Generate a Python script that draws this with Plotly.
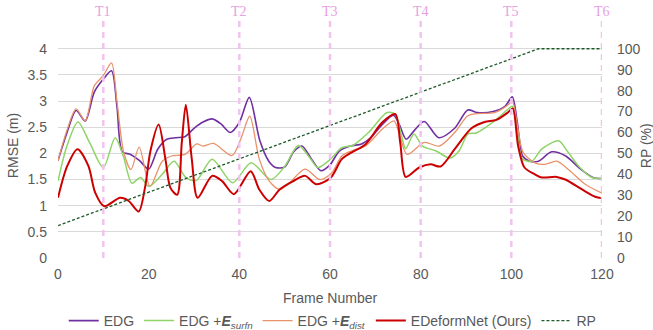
import plotly.graph_objects as go

# ---------------- data ----------------
edg_frames = [0, 2, 4, 6, 8, 10, 11.8, 13, 14.2, 16, 18, 20, 22, 24, 26, 28, 30, 32, 34, 36, 38, 40, 42.2,
              44.5, 46.5, 48, 50, 52, 53.8, 56, 58, 60, 62, 64.5, 67, 69, 71.5, 74, 75.3, 76.8, 78.8, 80.8,
              84, 87.5, 90.4, 92.5, 96, 98.6, 100.2, 101.3, 102.5, 104, 106, 108.9, 112, 115, 118, 120]
edg_values = [1.86, 2.40, 2.82, 2.62, 3.17, 3.42, 3.58, 2.90, 2.03, 1.98, 1.86, 1.70, 2.08, 2.27, 2.30, 2.32,
              2.48, 2.60, 2.66, 2.56, 2.40, 2.59, 3.07, 2.25, 1.85, 1.73, 1.74, 2.03, 2.14, 1.88, 1.67, 1.78,
              2.04, 2.14, 2.18, 2.30, 2.55, 2.73, 2.55, 2.27, 2.46, 2.61, 2.30, 2.48, 2.83, 2.78, 2.80, 2.90,
              3.08, 2.60, 1.95, 1.85, 1.85, 2.03, 1.95, 1.72, 1.54, 1.52]

surfn_frames = [0, 2, 4.4, 7, 10, 12.6, 14.4, 16.3, 18.2, 20, 23, 25.6, 28.2, 30.5, 34, 38.5, 42.6, 47, 50,
                53, 55.5, 57.3, 60, 62.6, 65, 68.5, 72.6, 74.4, 75.6, 76.7, 78.5, 80.4, 83.3, 86.5, 88.5,
                90.4, 92.3, 96.3, 99.2, 100.2, 101.3, 102.4, 104.5, 106.7, 110.4, 112.3, 114.8, 117.8, 120]
surfn_values = [1.47, 2.15, 2.60, 2.20, 1.73, 2.30, 1.95, 1.43, 1.54, 1.37, 1.60, 1.85, 1.54, 1.48, 1.89,
                1.44, 1.82, 1.50, 1.75, 2.15, 1.92, 1.73, 1.88, 2.11, 2.15, 2.40, 2.78, 2.75, 2.40, 2.09,
                2.37, 2.14, 2.05, 1.91, 2.05, 2.37, 2.39, 2.62, 2.84, 2.90, 2.40, 1.90, 1.85, 2.08, 2.24,
                2.05, 1.76, 1.54, 1.52]

dist_frames = [0, 2, 4, 6, 8, 10, 11.8, 13, 14.5, 16.1, 17.9, 20.3, 23, 25, 28, 30.6, 32, 34.3, 38.4, 40.3,
               42.3, 44.4, 46.6, 48.9, 51.1, 54.5, 57.8, 60.4, 62.6, 64.8, 67.8, 71.5, 74.1, 75.2, 77,
               80.8, 84.1, 87.5, 90.4, 92.3, 96.3, 99.2, 100.2, 101.4, 102.6, 105.2, 107.4, 110, 112.6,
               116.3, 120]
dist_values = [1.86, 2.45, 2.85, 2.62, 3.29, 3.49, 3.73, 3.00, 2.02, 1.69, 2.12, 1.37, 1.85, 1.95, 1.98,
               2.18, 2.14, 2.19, 1.96, 2.27, 2.71, 1.89, 1.47, 1.31, 1.44, 1.70, 1.50, 1.63, 1.95, 2.05,
               2.14, 2.46, 2.62, 2.40, 1.98, 2.21, 2.14, 2.40, 2.72, 2.76, 2.78, 2.92, 3.00, 2.50, 2.02,
               1.82, 1.79, 1.85, 1.69, 1.41, 1.24]

ours_frames = [0, 2, 4.3, 6.7, 8.2, 10.2, 13.7, 15.6, 17.8, 19.2, 20.4, 22.2, 23.7, 24.8, 26.3, 27.3, 28.2,
               29.5, 30.8, 34, 36.2, 38.8, 42.5, 44.4, 46.6, 48.9, 51.9, 54.5, 57, 60.2, 62.6, 64.8, 67.8,
               71.5, 74.4, 75.5, 76.7, 79.7, 82.2, 84.4, 87.5, 91.2, 94.1, 96.7, 99.2, 100.3, 101.5, 102.9,
               105.2, 106.7, 110, 111.9, 115.6, 118.5, 120]
ours_values = [1.15, 1.75, 2.08, 1.76, 1.25, 0.99, 1.15, 1.09, 0.89, 1.35, 2.05, 2.55, 1.89, 1.34, 1.21,
               2.20, 2.93, 1.90, 1.15, 1.57, 1.47, 1.22, 1.66, 1.31, 1.09, 1.31, 1.47, 1.57, 1.41, 1.54,
               1.89, 2.02, 2.17, 2.59, 2.75, 2.20, 1.55, 1.73, 1.79, 1.75, 2.08, 2.48, 2.60, 2.64, 2.78,
               2.86, 2.14, 1.73, 1.60, 1.54, 1.55, 1.50, 1.31, 1.17, 1.14]

rp_frames = [0, 106, 120]
rp_values = [15.5, 100, 100]

t_frames = [10, 40, 60, 80, 100, 120]
t_labels = ["T1", "T2", "T3", "T4", "T5", "T6"]

series_names = ["EDG", "EDG +<b><i>E</i></b><sub><i>surfn</i></sub>",
                "EDG +<b><i>E</i></b><sub><i>dist</i></sub>", "EDeformNet (Ours)"]
series_colors = ["#7030A0", "#8FD468", "#E8926A", "#CC0000"]
series_widths = [1.6, 1.5, 1.3, 2.0]

# ---------------- figure ----------------
FONT = "Liberation Sans, Arial, sans-serif"
GREY = "#595959"
fig = go.Figure()

all_x = [edg_frames, surfn_frames, dist_frames, ours_frames]
all_y = [edg_values, surfn_values, dist_values, ours_values]
for xs, ys, name, col, w in zip(all_x, all_y, series_names, series_colors, series_widths):
    fig.add_trace(go.Scatter(x=xs, y=ys, name=name, mode="lines",
                             line=dict(color=col, width=w, shape="spline", smoothing=0.8)))

fig.add_trace(go.Scatter(x=rp_frames, y=rp_values, name="RP", mode="lines", yaxis="y2",
                         line=dict(color="#1E5A28", width=1.3, dash="3px,2px")))

for tf, tl in zip(t_frames, t_labels):
    fig.add_shape(type="line", xref="x", yref="paper", x0=tf, x1=tf, y0=0, y1=1,
                  line=dict(color="#F1C4EF", width=2.5, dash="6px,5px"), layer="above")
    fig.add_annotation(x=tf, y=1, xref="x", yref="paper", text=tl, showarrow=False,
                       xanchor="center", yanchor="bottom", yshift=-1,
                       font=dict(family="Liberation Serif, DejaVu Serif, serif", size=14, color="#E6A0E2"))

fig.add_annotation(x=(13 - 58) / 544, y=0.47, xref="paper", yref="paper", text="RMSE (m)", textangle=-90,
                   showarrow=False, xanchor="center", yanchor="middle",
                   font=dict(family=FONT, size=14, color=GREY))
fig.add_annotation(x=(646 - 58) / 544, y=0.47, xref="paper", yref="paper", text="RP (%)", textangle=-90,
                   showarrow=False, xanchor="center", yanchor="middle",
                   font=dict(family=FONT, size=14, color=GREY))
fig.add_annotation(x=0.5, y=-(298 - 258) / 238, xref="paper", yref="paper", text="Frame Number",
                   showarrow=False, xanchor="center", yanchor="middle",
                   font=dict(family=FONT, size=14, color=GREY))

fig.update_layout(
    width=653, height=330,
    margin=dict(l=58, r=51, t=20, b=72, autoexpand=False),
    paper_bgcolor="white", plot_bgcolor="white",
    font=dict(family=FONT, size=14, color=GREY),
    xaxis=dict(range=[0, 120], tickvals=[0, 20, 40, 60, 80, 100, 120], showgrid=False, automargin=False,
               zeroline=False, showline=False, ticks="", ticklabelstandoff=6,
               tickfont=dict(size=14, color=GREY)),
    yaxis=dict(range=[0, 4.55], tickvals=[0, 0.5, 1, 1.5, 2, 2.5, 3, 3.5, 4], automargin=False,
               ticktext=["0", "0.5", "1", "1.5", "2", "2.5", "3", "3.5", "4"],
               showgrid=True, gridcolor="#D9D9D9", gridwidth=1, zeroline=False, showline=False,
               ticks="", ticklabelstandoff=10, tickfont=dict(size=14, color=GREY)),
    yaxis2=dict(range=[0, 113.75], tickvals=list(range(0, 101, 10)), overlaying="y", side="right",
                showgrid=False, zeroline=False, showline=False, ticks="", ticklabelstandoff=14,
                automargin=False, tickfont=dict(size=14, color=GREY)),
    showlegend=True,
    legend=dict(orientation="h", x=0.505, xanchor="center", y=-(321 - 258) / 238, yanchor="middle",
                font=dict(family=FONT, size=14, color=GREY), itemwidth=30, tracegroupgap=0,
                bgcolor="rgba(0,0,0,0)"),
)

fig.write_html("out.html", config={"displayModeBar": False},
               post_script="document.body.style.margin='0';")
